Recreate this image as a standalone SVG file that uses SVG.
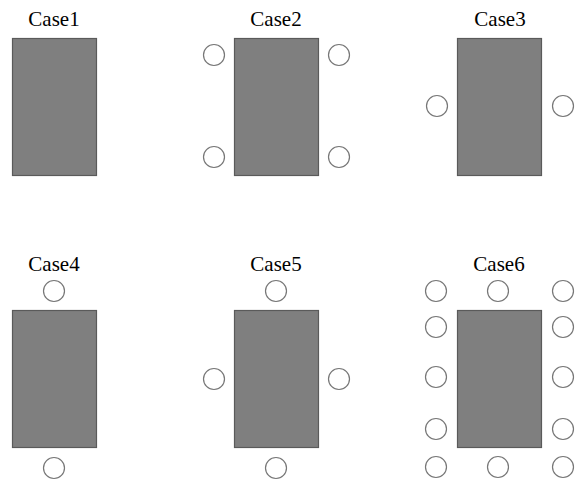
<svg xmlns="http://www.w3.org/2000/svg" width="576" height="480" viewBox="0 0 576 480">
<style>
.r{fill:#7f7f7f;stroke:#5a5a5a;stroke-width:1.2}
.c{fill:#fff;stroke:#777;stroke-width:1.2}
</style>
<rect width="576" height="480" fill="#fff"/>
<g font-family="'Liberation Serif', 'Times New Roman', 'DejaVu Serif', serif" font-size="21" fill="#000" text-anchor="middle">
<g id="case1">
<text x="54" y="26">Case1</text>
<rect class="r" x="12.5" y="38.5" width="84" height="137"/>
</g>
<g id="case2">
<text x="276" y="26">Case2</text>
<rect class="r" x="234.5" y="38.5" width="84" height="137"/>
<circle class="c" cx="214" cy="55" r="10.5"/>
<circle class="c" cx="339" cy="55" r="10.5"/>
<circle class="c" cx="214" cy="157" r="10.5"/>
<circle class="c" cx="339" cy="157" r="10.5"/>
</g>
<g id="case3">
<text x="500" y="26">Case3</text>
<rect class="r" x="457.5" y="38.5" width="84" height="137"/>
<circle class="c" cx="437" cy="106" r="10.5"/>
<circle class="c" cx="563" cy="106" r="10.5"/>
</g>
<g id="case4">
<text x="54" y="271">Case4</text>
<rect class="r" x="12.5" y="310.5" width="84" height="137"/>
<circle class="c" cx="54" cy="291" r="10.5"/>
<circle class="c" cx="54" cy="468" r="10.5"/>
</g>
<g id="case5">
<text x="276" y="271">Case5</text>
<rect class="r" x="234.5" y="310.5" width="84" height="137"/>
<circle class="c" cx="276" cy="291" r="10.5"/>
<circle class="c" cx="276" cy="468" r="10.5"/>
<circle class="c" cx="214" cy="379" r="10.5"/>
<circle class="c" cx="339" cy="379" r="10.5"/>
</g>
<g id="case6">
<text x="499" y="271">Case6</text>
<rect class="r" x="457.5" y="310.5" width="84" height="137"/>
<circle class="c" cx="436" cy="291" r="10.5"/>
<circle class="c" cx="498" cy="291" r="10.5"/>
<circle class="c" cx="563" cy="291" r="10.5"/>
<circle class="c" cx="436" cy="327" r="10.5"/>
<circle class="c" cx="563" cy="327" r="10.5"/>
<circle class="c" cx="436" cy="377" r="10.5"/>
<circle class="c" cx="563" cy="377" r="10.5"/>
<circle class="c" cx="436" cy="429" r="10.5"/>
<circle class="c" cx="563" cy="429" r="10.5"/>
<circle class="c" cx="436" cy="467" r="10.5"/>
<circle class="c" cx="498" cy="467" r="10.5"/>
<circle class="c" cx="563" cy="467" r="10.5"/>
</g>
</g>
</svg>
